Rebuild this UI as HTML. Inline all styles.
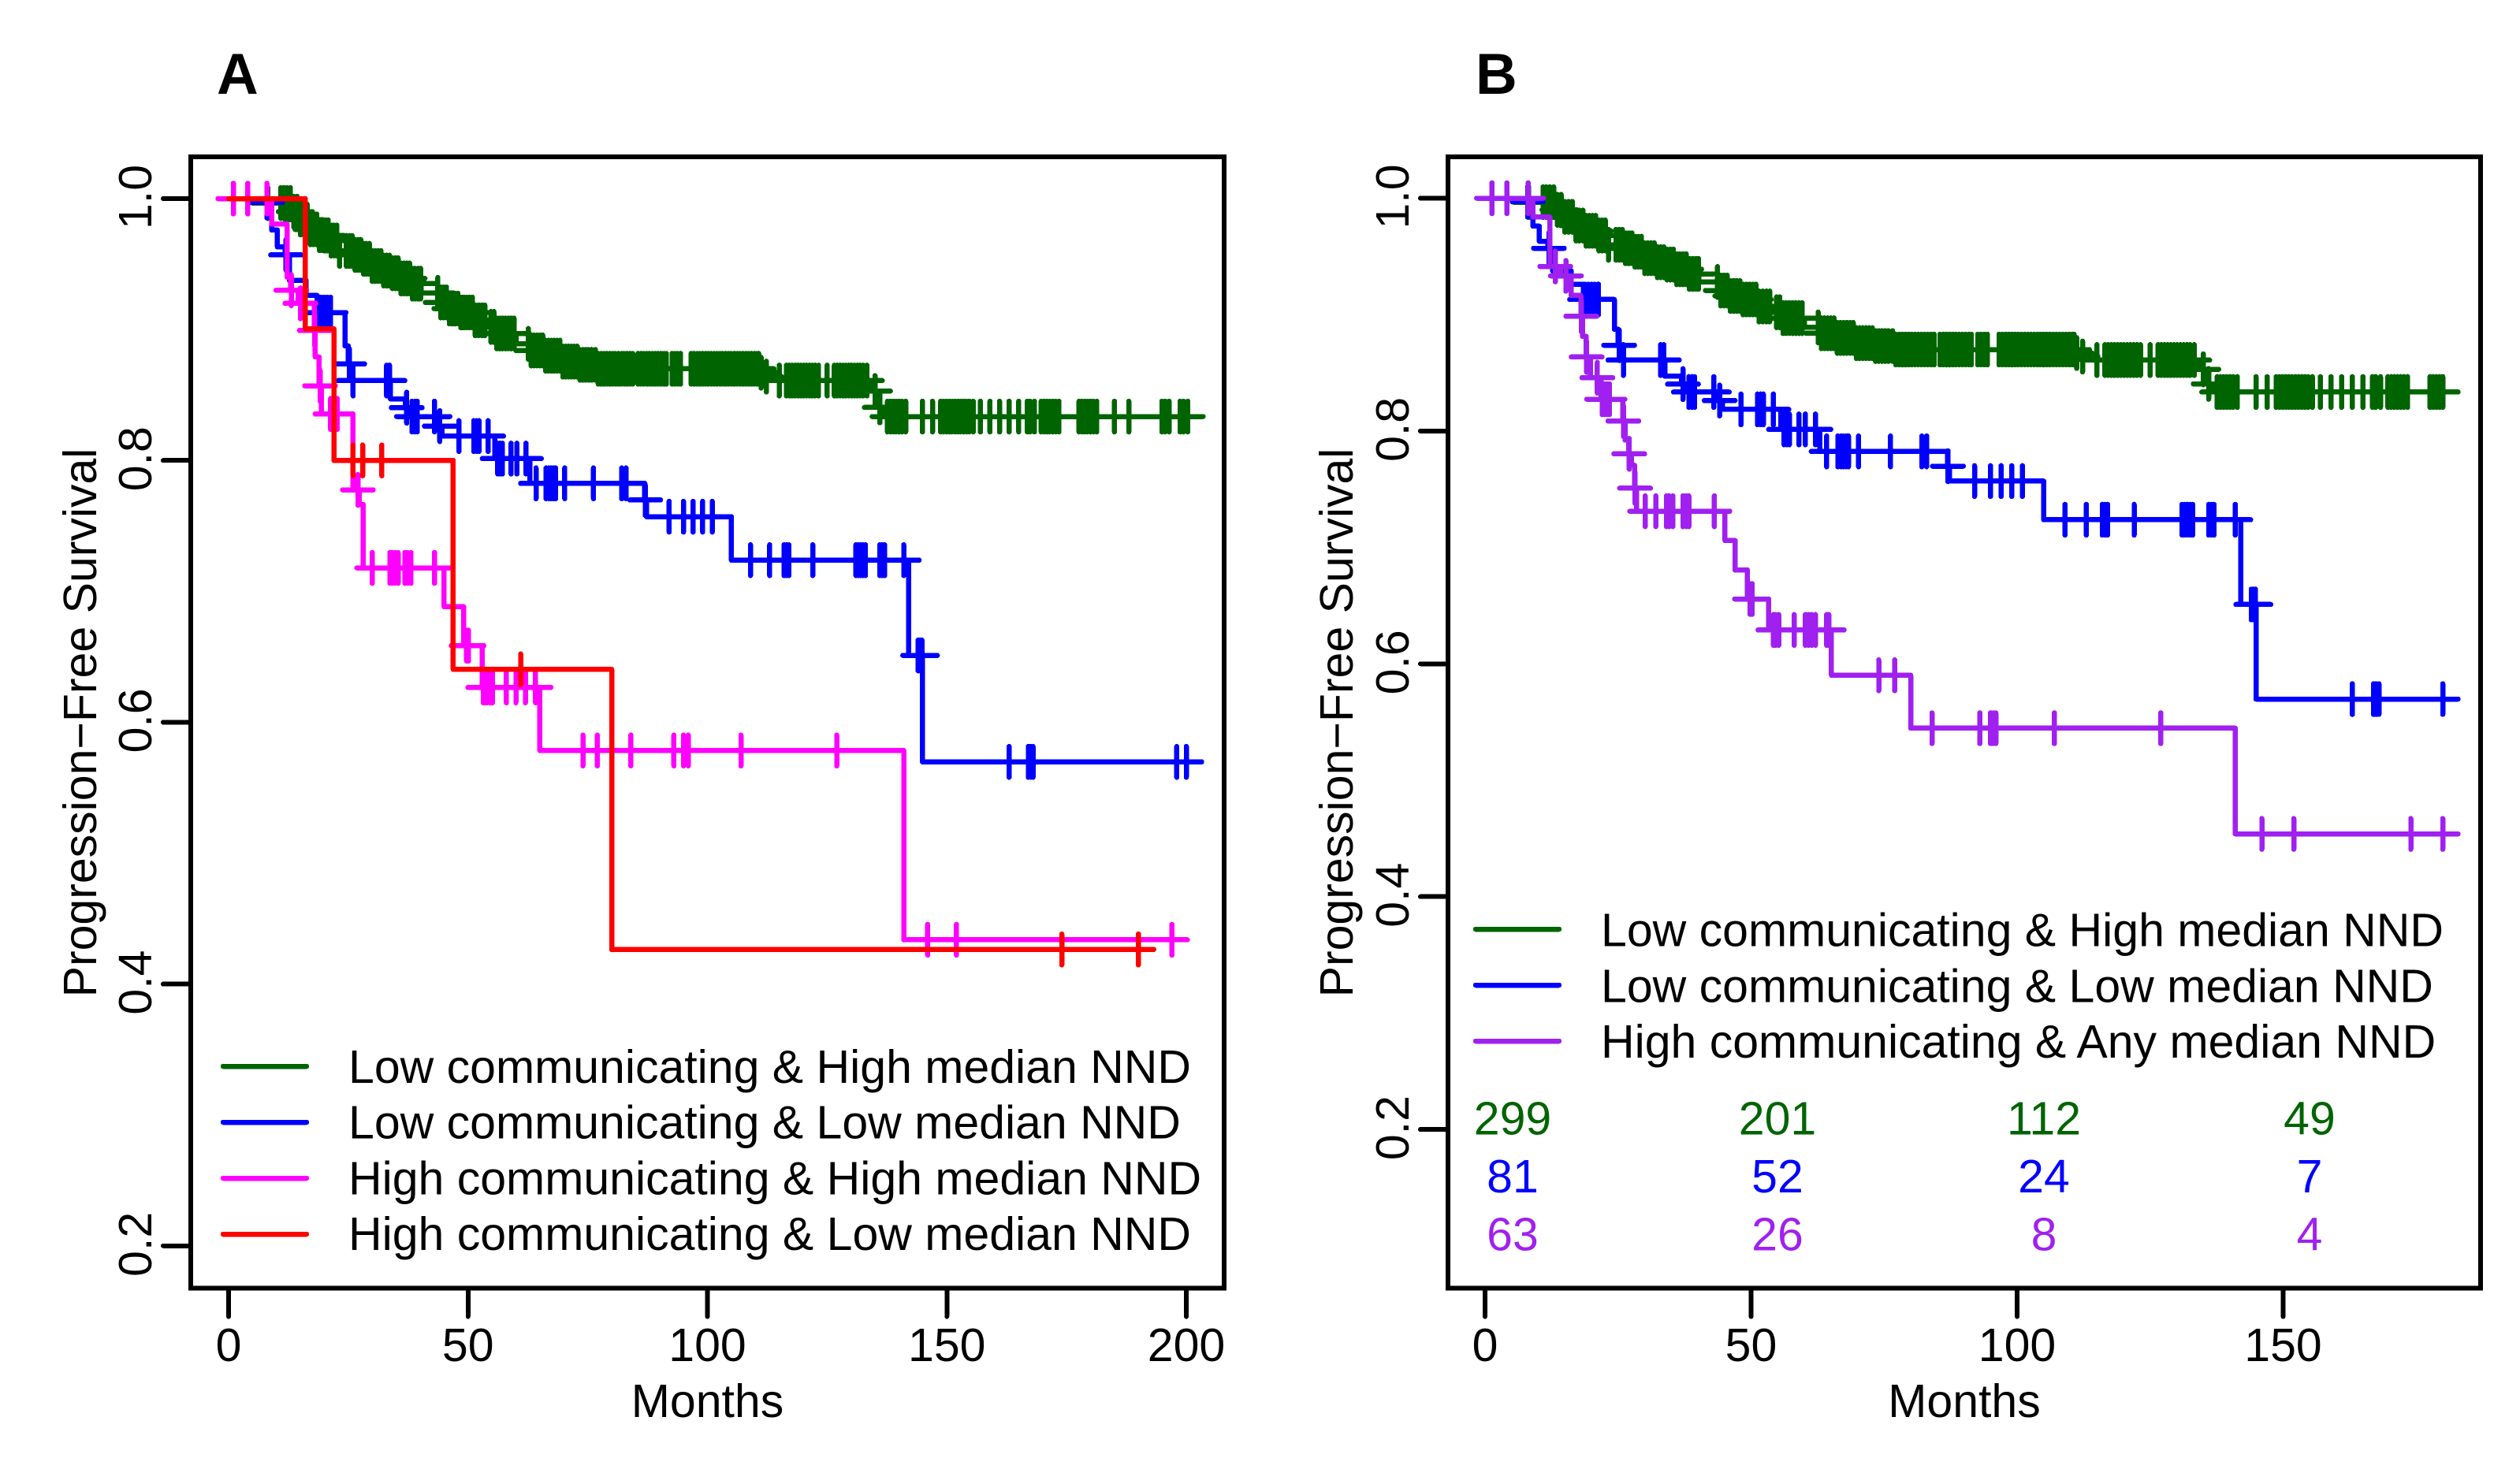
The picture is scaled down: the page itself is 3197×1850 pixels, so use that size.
<!DOCTYPE html>
<html lang="en">
<head>
<meta charset="utf-8">
<title>Progression-Free Survival Kaplan-Meier curves</title>
<style>
html,body{margin:0;padding:0;background:#fff;}
svg{display:block;}
text{font-family:"Liberation Sans",Arial,sans-serif;font-size:59px;fill:#000;}
.panel-letter{font-weight:bold;font-size:73px;}
</style>
</head>
<body>
<svg id="figure" xmlns="http://www.w3.org/2000/svg" width="3197" height="1850" viewBox="0 0 3197 1850" shape-rendering="crispEdges">
  <rect x="0" y="0" width="3197" height="1850" fill="#fff"/>

  <text class="panel-letter" x="275" y="119">A</text>
  <text class="panel-letter" x="1872" y="119">B</text>

  <g id="panel-a">
    <g id="panel-a-curves"></g>
    <rect x="242" y="199" width="1311" height="1435.5" fill="none" stroke="#000" stroke-width="6"/>
    <g id="panel-a-axes"></g>
    <text x="897.5" y="1798" text-anchor="middle">Months</text>
    <text transform="translate(122,917) rotate(-90)" text-anchor="middle">Progression−Free Survival</text>
    <g>
      <line x1="283" x2="389" y1="1353" y2="1353" stroke="#006400" stroke-width="6.5" stroke-linecap="round"/>
      <text x="442" y="1374">Low communicating &amp; High median NND</text>
      <line x1="283" x2="389" y1="1424" y2="1424" stroke="#0000ff" stroke-width="6.5" stroke-linecap="round"/>
      <text x="442" y="1444.5">Low communicating &amp; Low median NND</text>
      <line x1="283" x2="389" y1="1495" y2="1495" stroke="#ff00ff" stroke-width="6.5" stroke-linecap="round"/>
      <text x="442" y="1515.5">High communicating &amp; High median NND</text>
      <line x1="283" x2="389" y1="1566" y2="1566" stroke="#ff0000" stroke-width="6.5" stroke-linecap="round"/>
      <text x="442" y="1586">High communicating &amp; Low median NND</text>
    </g>
  </g>

  <g id="panel-b">
    <g id="panel-b-curves"></g>
    <rect x="1837" y="199" width="1310" height="1435.5" fill="none" stroke="#000" stroke-width="6"/>
    <g id="panel-b-axes"></g>
    <text x="2492" y="1798" text-anchor="middle">Months</text>
    <text transform="translate(1716,917) rotate(-90)" text-anchor="middle">Progression−Free Survival</text>
    <g>
      <line x1="1872" x2="1978" y1="1179" y2="1179" stroke="#006400" stroke-width="6.5" stroke-linecap="round"/>
      <text x="2031" y="1200.5">Low communicating &amp; High median NND</text>
      <line x1="1872" x2="1978" y1="1250" y2="1250" stroke="#0000ff" stroke-width="6.5" stroke-linecap="round"/>
      <text x="2031" y="1271.5">Low communicating &amp; Low median NND</text>
      <line x1="1872" x2="1978" y1="1321" y2="1321" stroke="#a020f0" stroke-width="6.5" stroke-linecap="round"/>
      <text x="2031" y="1342">High communicating &amp; Any median NND</text>
    </g>
    <g id="at-risk-table"></g>
  </g>
</svg>

<script>
// ---- Axis tick values ----
var panelAXTicks = [0, 50, 100, 150, 200];
var panelBXTicks = [0, 50, 100, 150];
var yTicks = [1.0, 0.8, 0.6, 0.4, 0.2];
var yTickLabels = ['1.0', '0.8', '0.6', '0.4', '0.2'];

// ---- Low communicating & High median NND ----
var lowHighStepMonths = [0, 7, 13, 15, 17, 19, 21, 23, 26, 28, 30, 32, 34, 36, 38, 40.2, 44, 46, 48, 51, 54, 56, 60, 63, 66, 69.5, 73, 77, 110.8, 112, 114, 134, 135.6, 136.8];
var lowHighStepSurvival = [1, 0.9966, 0.99, 0.984, 0.9765, 0.972, 0.968, 0.96, 0.957, 0.954, 0.9485, 0.945, 0.943, 0.939, 0.935, 0.928, 0.9207, 0.916, 0.913, 0.907, 0.902, 0.897, 0.889, 0.884, 0.88, 0.8755, 0.873, 0.87, 0.867, 0.864, 0.861, 0.853, 0.8405, 0.8335];
var lowHighCensored = [8.2, 10.9, 11.5, 12.2, 12.9, 13.6, 14.3, 15, 15.7, 16.4, 17.1, 17.7, 18.4, 19, 19.6, 20.2, 20.8, 21.4, 22, 22.6, 23.2,
  24.6, 25.2, 25.8, 26.4, 27, 27.6, 28.2, 28.8, 29.4, 30, 30.6, 31.2, 31.8, 32.4, 33, 33.6, 34.2, 34.8, 35.4, 36, 36.6, 37.2, 37.8, 38.4, 39, 39.6, 40.1,
  43.7, 44.3, 44.9, 45.5, 46.1, 46.7, 47.3, 47.9, 48.5, 49.1, 49.7, 50.3, 50.9, 51.5, 52.2, 52.9, 53.5, 54.8, 55.4, 56, 56.6, 57.2, 57.8, 58.4, 59, 59.6,
  62.6, 63.2, 63.8, 64.4, 65, 65.6, 66.2, 66.8, 67.4, 68, 68.6, 69.2, 69.8, 70.4, 71, 71.6, 72.2, 72.8, 73.4, 74, 74.6, 75.2, 75.8,
  76.6, 77.2, 77.8, 78.4, 79, 79.6, 80.2, 80.8, 81.4, 82, 82.6, 83.2, 83.8, 84.4,
  85.5, 86.1, 86.7, 87.3, 87.9, 88.5, 89.1, 89.7, 90.3, 90.9, 91.4, 92.6, 93.2, 93.8, 94.4,
  96.6, 97.2, 97.8, 98.4, 99, 99.6, 100.2, 100.8, 101.4, 102, 102.6, 103.2, 103.8, 104.4, 105, 105.6, 106.2, 106.8, 107.4, 108, 108.6, 109.2, 109.8, 110.4, 110.7, 111.2, 112.3,
  115, 116.5, 117.1, 117.7, 118.3, 118.9, 119.5, 120.1, 120.7, 121.3, 121.9, 122.5, 123.2, 125, 126.5, 127.1, 127.7, 128.3, 128.9, 129.5, 130.1, 130.7, 131.3, 131.9, 132.5, 133.3,
  135, 136, 137.6, 138.2, 138.8, 139.4, 140, 140.6, 141.4, 144.9, 147, 148.7, 149.3, 149.9, 150.5, 151.1, 151.7, 152.3, 152.9, 153.5, 154.1, 154.7, 155.5,
  157, 159, 161, 163, 165, 166.8, 167.4, 168.3, 169.7, 170.3, 170.9, 171.5, 172.1, 172.7, 173.4, 177.6, 178.2, 178.8, 179.4, 180, 180.6, 181.3, 185, 188, 194.9, 195.6, 196.4, 198.7, 199.4, 200.3];

// ---- Low communicating & Low median NND ----
var lowLowStepMonths = [0, 7.5, 9, 10.2, 11.8, 12.7, 16.2, 18.5, 24.3, 25, 25.6, 33.8, 36.9, 37.8, 43.6, 44.6, 55.6, 62.9, 86.9, 87.3, 105, 142, 144.9];
var lowLowStepSurvival = [1, 0.997, 0.976, 0.963, 0.957, 0.9375, 0.926, 0.913, 0.8875, 0.8737, 0.861, 0.847, 0.8403, 0.8335, 0.8262, 0.8186, 0.8014, 0.7825, 0.7698, 0.757, 0.7238, 0.651, 0.5697];
var lowLowCensored = [8, 12, 18.8, 19.4, 20, 20.6, 21.3, 25.2, 26, 33, 33.6, 37.2, 38.3, 38.9, 39.4, 43, 44.1, 48.1, 51.2, 51.8, 52.3, 54.2, 56.2, 56.7, 57.2, 59, 60.2, 62.1, 64.2, 66.3, 66.9, 67.4, 67.9, 68.3, 70.2, 76.2, 82.1, 83, 87, 92, 95, 97, 99, 101, 109, 113, 116, 116.5, 117, 122, 131, 131.5, 132, 132.5, 133, 136, 136.5, 137, 141, 144, 144.4, 144.8, 163, 167, 167.5, 168, 198, 200];

// ---- High communicating & High median NND ----
var highHighStepMonths = [0, 9, 12.2, 13, 14.5, 17.9, 18.1, 18.9, 19.4, 26, 27.3, 28.1, 45, 49.1, 53, 65, 141];
var highHighStepSurvival = [1, 0.9806, 0.94, 0.93, 0.92, 0.8993, 0.879, 0.857, 0.8355, 0.7775, 0.7664, 0.7179, 0.6882, 0.6585, 0.6266, 0.5784, 0.4338];
var highHighCensored = [1, 4, 8, 13.1, 15, 18, 19.1, 21.3, 22.7, 27, 30, 33.7, 34.2, 34.8, 35.4, 36.8, 37.4, 38.1, 43, 49.7, 50.1, 53.2, 53.6, 54, 54.6, 55.1, 58, 60, 62, 64.1, 74, 77, 84, 93, 95, 96, 107, 127, 146, 152, 197];

// ---- High communicating & Low median NND ----
var highLowStepMonths = [0, 16, 22, 46.9, 80];
var highLowStepSurvival = [1, 0.9005, 0.8, 0.6404, 0.4264];
var highLowCensored = [26, 28, 32, 61, 174, 190];

// ---- High communicating & Any median NND ----
var highAnyStepMonths = [0, 9, 12.2, 14.2, 16.2, 18, 18.3, 19, 19.8, 21.8, 25.9, 26.3, 27, 27.5, 28.1, 28.5, 45.1, 47, 49.3, 53.3, 65.1, 80, 141];
var highAnyStepSurvival = [1, 0.9838, 0.9414, 0.9333, 0.9164, 0.8986, 0.8814, 0.8636, 0.8458, 0.8273, 0.8086, 0.7923, 0.7804, 0.7706, 0.7509, 0.7311, 0.7059, 0.6806, 0.6557, 0.6291, 0.5902, 0.5447, 0.4539];
var highAnyCensored = [1.3, 4.1, 8.1, 13.2, 15.2, 18.1, 19.1, 21.1, 22, 22.5, 23, 23.4, 26, 27.1, 28.2, 30.1, 32.1, 34.1, 34.6, 35.3, 37.2, 37.8, 38.3, 43.1, 49.8, 50.2, 54.2, 54.6, 55.2, 58.1, 60.2, 60.8, 61.4, 62.1, 64.2, 64.6, 74, 77, 84, 93, 95, 95.5, 96, 107, 127, 146, 152, 174, 180];

// ---- Numbers at risk (panel B) ----
var atRiskLowHigh = ['299', '201', '112', '49'];
var atRiskLowLow = ['81', '52', '24', '7'];
var atRiskHighAny = ['63', '26', '8', '4'];

// ---- Rendering ----
var SVG_NS = 'http://www.w3.org/2000/svg';
var MARK_HALF = 19.5;
var STROKE = 6.5;

function monthAxisA(m) { return 290 + 6.075 * m; }
function survivalAxisA(s) { return 252 + (1 - s) * 1661; }
function monthAxisB(m) { return 1884 + 6.75 * m; }
function survivalAxisB(s) { return 251.5 + (1 - s) * 1477; }

function levelAt(months, survival, t) {
  var level = survival[0];
  for (var i = 0; i < months.length; i++) {
    if (months[i] <= t) { level = survival[i]; }
  }
  return level;
}

function drawCurve(parent, name, color, months, survival, censored, xAxis, yAxis, truncate) {
  var group = document.createElementNS(SVG_NS, 'g');
  
  
  parent.appendChild(group);

  var marks = censored.filter(function (m) { return truncate === null || m <= truncate; });
  if (truncate !== null && marks[marks.length - 1] < truncate && censored[censored.length - 1] > truncate) {
    marks.push(truncate);
  }
  var endMonth = marks[marks.length - 1];

  var d = 'M' + xAxis(months[0]) + ' ' + yAxis(survival[0]);
  for (var i = 1; i < months.length; i++) {
    if (months[i] > endMonth) { break; }
    d += 'H' + xAxis(months[i]) + 'V' + yAxis(survival[i]);
  }
  d += 'H' + xAxis(endMonth);

  var line = document.createElementNS(SVG_NS, 'path');
  
  
  line.setAttribute('d', d);
  line.setAttribute('fill', 'none');
  line.setAttribute('stroke', color);
  line.setAttribute('stroke-width', STROKE);
  line.setAttribute('stroke-linejoin', 'round');
  line.setAttribute('stroke-linecap', 'round');
  group.appendChild(line);

  marks.forEach(function (m) {
    var px = xAxis(m);
    var py = yAxis(levelAt(months, survival, m));
    var mark = document.createElementNS(SVG_NS, 'path');
    
    
    mark.setAttribute('d', 'M' + (px - MARK_HALF) + ' ' + py + 'H' + (px + MARK_HALF) + 'M' + px + ' ' + (py - MARK_HALF) + 'V' + (py + MARK_HALF));
    mark.setAttribute('fill', 'none');
    mark.setAttribute('stroke', color);
    mark.setAttribute('stroke-width', STROKE);
    mark.setAttribute('stroke-linecap', 'round');
    group.appendChild(mark);
  });
}

function drawAxes(parent, prefix, xTicks, xAxis, yAxis, frameLeft, frameBottom, yBaseline) {
  xTicks.forEach(function (v) {
    var px = xAxis(v);
    var tick = document.createElementNS(SVG_NS, 'line');
    
    
    tick.setAttribute('x1', px);
    tick.setAttribute('x2', px);
    tick.setAttribute('y1', frameBottom);
    tick.setAttribute('y2', frameBottom + 36);
    tick.setAttribute('stroke', '#000');
    tick.setAttribute('stroke-width', 6);
    tick.setAttribute('stroke-linecap', 'round');
    parent.appendChild(tick);

    var label = document.createElementNS(SVG_NS, 'text');
    
    
    label.setAttribute('x', px);
    label.setAttribute('y', 1727);
    label.setAttribute('text-anchor', 'middle');
    label.textContent = String(v);
    parent.appendChild(label);
  });

  yTicks.forEach(function (v, i) {
    var py = yAxis(v);
    var tick = document.createElementNS(SVG_NS, 'line');
    
    
    tick.setAttribute('x1', frameLeft);
    tick.setAttribute('x2', frameLeft - 35);
    tick.setAttribute('y1', py);
    tick.setAttribute('y2', py);
    tick.setAttribute('stroke', '#000');
    tick.setAttribute('stroke-width', 6);
    tick.setAttribute('stroke-linecap', 'round');
    parent.appendChild(tick);

    var label = document.createElementNS(SVG_NS, 'text');
    
    
    label.setAttribute('transform', 'translate(' + yBaseline + ',' + (py - 2) + ') rotate(-90)');
    label.setAttribute('text-anchor', 'middle');
    label.textContent = yTickLabels[i];
    parent.appendChild(label);
  });
}

function drawAtRiskRow(parent, name, color, values, baseline) {
  var columnCenters = [1919, 2255, 2593, 2930];
  values.forEach(function (v, i) {
    var cell = document.createElementNS(SVG_NS, 'text');
    
    
    cell.setAttribute('x', columnCenters[i]);
    cell.setAttribute('y', baseline);
    cell.setAttribute('text-anchor', 'middle');
    cell.style.fill = color;
    cell.textContent = v;
    parent.appendChild(cell);
  });
}

var curvesA = document.getElementById('panel-a-curves');
drawCurve(curvesA, 'low-comm-high-nnd', '#006400', lowHighStepMonths, lowHighStepSurvival, lowHighCensored, monthAxisA, survivalAxisA, null);
drawCurve(curvesA, 'low-comm-low-nnd', '#0000ff', lowLowStepMonths, lowLowStepSurvival, lowLowCensored, monthAxisA, survivalAxisA, null);
drawCurve(curvesA, 'high-comm-high-nnd', '#ff00ff', highHighStepMonths, highHighStepSurvival, highHighCensored, monthAxisA, survivalAxisA, null);
drawCurve(curvesA, 'high-comm-low-nnd', '#ff0000', highLowStepMonths, highLowStepSurvival, highLowCensored, monthAxisA, survivalAxisA, null);
drawAxes(document.getElementById('panel-a-axes'), 'panel-a', panelAXTicks, monthAxisA, survivalAxisA, 242, 1634.5, 192);

var curvesB = document.getElementById('panel-b-curves');
drawCurve(curvesB, 'low-comm-high-nnd', '#006400', lowHighStepMonths, lowHighStepSurvival, lowHighCensored, monthAxisB, survivalAxisB, 180);
drawCurve(curvesB, 'low-comm-low-nnd', '#0000ff', lowLowStepMonths, lowLowStepSurvival, lowLowCensored, monthAxisB, survivalAxisB, 180);
drawCurve(curvesB, 'high-comm-any-nnd', '#a020f0', highAnyStepMonths, highAnyStepSurvival, highAnyCensored, monthAxisB, survivalAxisB, 180);
drawAxes(document.getElementById('panel-b-axes'), 'panel-b', panelBXTicks, monthAxisB, survivalAxisB, 1837, 1634.5, 1787);

var atRisk = document.getElementById('at-risk-table');
drawAtRiskRow(atRisk, 'low-comm-high-nnd', '#006400', atRiskLowHigh, 1439.5);
drawAtRiskRow(atRisk, 'low-comm-low-nnd', '#0000ff', atRiskLowLow, 1513);
drawAtRiskRow(atRisk, 'high-comm-any-nnd', '#a020f0', atRiskHighAny, 1586.5);
</script>
</body>
</html>
